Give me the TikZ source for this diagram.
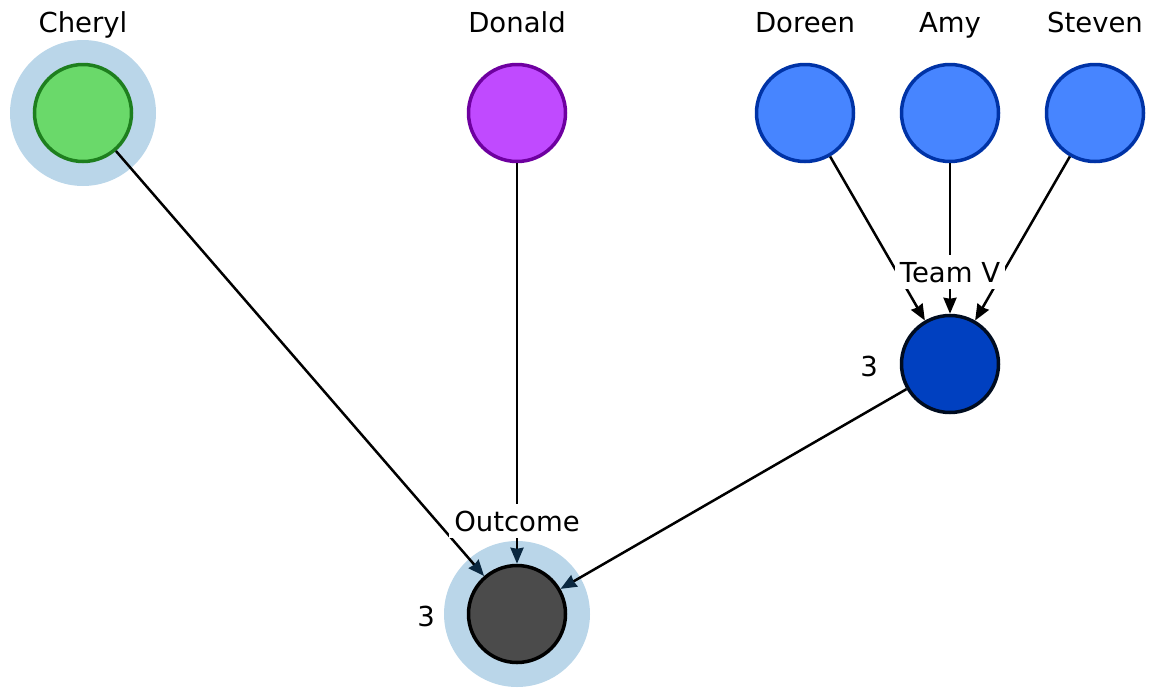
\documentclass[tikz,border=0pt]{standalone}
\usepackage{fontspec}
\setmainfont{DejaVu Sans}
\usetikzlibrary{arrows.meta}
\definecolor{haloblue}{HTML}{BAD6E9}
\definecolor{greenfill}{HTML}{6AD96A}
\definecolor{greenline}{HTML}{1E7F1E}
\definecolor{purplefill}{HTML}{C04AFF}
\definecolor{purpleline}{HTML}{6E00A0}
\definecolor{bluefill}{HTML}{4785FF}
\definecolor{blueline}{HTML}{0033A6}
\definecolor{teamfill}{HTML}{0040C0}
\definecolor{teamline}{HTML}{000C20}
\definecolor{outfill}{HTML}{4B4B4B}
\definecolor{navytip}{HTML}{0B2840}
\begin{document}
\begin{tikzpicture}[x=1pt,y=-1pt,
  every node/.style={font=\fontsize{27.5}{32}\selectfont},
  person/.style={circle,minimum size=97pt,line width=3.5pt,inner sep=0pt},
  halo/.style={circle,fill=haloblue,minimum size=146pt,inner sep=0pt},
  namelabel/.style={anchor=base},
  tag/.style={anchor=base,fill=white,inner xsep=5pt,inner ysep=7pt},
  link/.style={line width=2.5pt,-{Stealth[length=16pt,width=13pt,inset=1pt]}},
  navylink/.style={link,-{Stealth[length=16pt,width=13pt,inset=1pt,color=navytip]}}]
\useasboundingbox (0,0) rectangle (1157,697);
% halos
\node [halo] at (83,113) {};
\node [halo] at (517,614) {};
% people
\node [person,fill=greenfill,draw=greenline] (cheryl) at (83,113) {};
\node [person,fill=purplefill,draw=purpleline] (donald) at (517,113) {};
\node [person,fill=bluefill,draw=blueline] (doreen) at (805,113) {};
\node [person,fill=bluefill,draw=blueline] (amy) at (950,113) {};
\node [person,fill=bluefill,draw=blueline] (steven) at (1095,113) {};
\node [person,fill=teamfill,draw=teamline] (teamv) at (950,364) {};
\node [person,fill=outfill,draw=black] (outcome) at (517,614) {};
% names
\node [namelabel] at (83,32) {Cheryl};
\node [namelabel] at (517,32) {Donald};
\node [namelabel] at (805,32) {Doreen};
\node [namelabel] at (950,32) {Amy};
\node [namelabel] at (1095,32) {Steven};
\node [namelabel] (teamvn) at (869,376) {3};
\node [namelabel] (outcomen) at (426,626) {3};
% edges
\draw [link] (doreen) -- (teamv);
\draw [link] (amy) -- (teamv);
\draw [link] (steven) -- (teamv);
\draw [navylink] (cheryl) -- (outcome);
\draw [navylink] (donald) -- (outcome);
\draw [navylink] (teamv) -- (outcome);
% group labels
\node [tag] (teamvt) at (950,282) {Team V};
\node [tag] (outcomet) at (517,531) {Outcome};
\end{tikzpicture}
\end{document}
